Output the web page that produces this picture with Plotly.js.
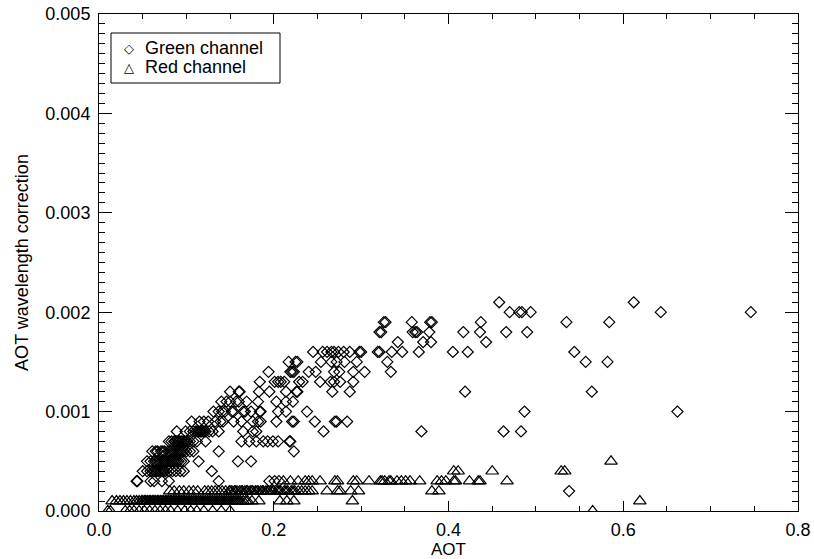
<!DOCTYPE html>
<html>
<head>
<meta charset="utf-8">
<script src="https://cdn.plot.ly/plotly-3.0.1.min.js"></script>
<style>html,body{margin:0;padding:0;background:#fff;}#chart{width:814px;height:559px;}</style>
</head>
<body>
<div id="chart"></div>
<script>
// Green channel (diamonds): AOT vs wavelength correction
const greenAOT = [
  0.458, 0.612,
  0.470, 0.481, 0.484, 0.494, 0.643, 0.746,
  0.326, 0.328, 0.358, 0.379, 0.381, 0.437, 0.535, 0.584,
  0.321, 0.323, 0.359, 0.362, 0.364, 0.378, 0.417, 0.436, 0.466, 0.490,
  0.342, 0.371, 0.380, 0.443,
  0.245, 0.256, 0.261, 0.266, 0.269, 0.274, 0.280, 0.287, 0.298, 0.300, 0.319, 0.321, 0.335, 0.347, 0.366, 0.405, 0.422, 0.544,
  0.217, 0.225, 0.227, 0.254, 0.266, 0.272, 0.281, 0.295, 0.330, 0.557, 0.582,
  0.194, 0.219, 0.221, 0.223, 0.240, 0.248, 0.269, 0.275, 0.291, 0.304, 0.334,
  0.184, 0.201, 0.205, 0.208, 0.212, 0.229, 0.233, 0.253, 0.265, 0.269, 0.276, 0.291,
  0.150, 0.160, 0.161, 0.183, 0.195, 0.214, 0.226, 0.227, 0.267, 0.287, 0.419, 0.564,
  0.140, 0.146, 0.150, 0.157, 0.160, 0.169, 0.182, 0.203, 0.214, 0.222,
  0.131, 0.137, 0.141, 0.144, 0.152, 0.154, 0.165, 0.167, 0.174, 0.184, 0.185, 0.205, 0.214, 0.238, 0.487, 0.662,
  0.106, 0.115, 0.120, 0.125, 0.133, 0.139, 0.142, 0.154, 0.163, 0.176, 0.182, 0.185, 0.203, 0.221, 0.223, 0.247, 0.270, 0.272, 0.284,
  0.089, 0.099, 0.104, 0.108, 0.111, 0.114, 0.116, 0.118, 0.122, 0.126, 0.130, 0.137, 0.165, 0.176, 0.180, 0.257, 0.369, 0.463, 0.483,
  0.080, 0.083, 0.086, 0.089, 0.092, 0.095, 0.098, 0.101, 0.104, 0.108, 0.112, 0.122, 0.163, 0.172, 0.180, 0.188, 0.193, 0.199, 0.205, 0.218, 0.219,
  0.061, 0.067, 0.071, 0.075, 0.079, 0.083, 0.087, 0.091, 0.093, 0.097, 0.100, 0.108, 0.137, 0.223,
  0.055, 0.063, 0.067, 0.071, 0.075, 0.079, 0.083, 0.087, 0.091, 0.094, 0.097, 0.114, 0.159, 0.174,
  0.050, 0.055, 0.059, 0.064, 0.068, 0.072, 0.076, 0.080, 0.084, 0.088, 0.093, 0.097, 0.129,
  0.043, 0.044, 0.059, 0.063, 0.072, 0.080, 0.137, 0.195, 0.201, 0.206,
  0.538,
  0.113, 0.117, 0.120,
  0.087, 0.091, 0.094, 0.097, 0.100,
  0.065, 0.073, 0.081, 0.085, 0.089, 0.095, 0.104,
  0.059, 0.065, 0.069, 0.073, 0.077, 0.081, 0.085, 0.089,
  0.062, 0.066, 0.070, 0.074
];
const greenCorr = [
  0.0021, 0.0021,
  0.0020, 0.0020, 0.0020, 0.0020, 0.0020, 0.0020,
  0.0019, 0.0019, 0.0019, 0.0019, 0.0019, 0.0019, 0.0019, 0.0019,
  0.0018, 0.0018, 0.0018, 0.0018, 0.0018, 0.0018, 0.0018, 0.0018, 0.0018, 0.0018,
  0.0017, 0.0017, 0.0017, 0.0017,
  0.0016, 0.0016, 0.0016, 0.0016, 0.0016, 0.0016, 0.0016, 0.0016, 0.0016, 0.0016, 0.0016, 0.0016, 0.0016, 0.0016, 0.0016, 0.0016, 0.0016, 0.0016,
  0.0015, 0.0015, 0.0015, 0.0015, 0.0015, 0.0015, 0.0015, 0.0015, 0.0015, 0.0015, 0.0015,
  0.0014, 0.0014, 0.0014, 0.0014, 0.0014, 0.0014, 0.0014, 0.0014, 0.0014, 0.0014, 0.0014,
  0.0013, 0.0013, 0.0013, 0.0013, 0.0013, 0.0013, 0.0013, 0.0013, 0.0013, 0.0013, 0.0013, 0.0013,
  0.0012, 0.0012, 0.0012, 0.0012, 0.0012, 0.0012, 0.0012, 0.0012, 0.0012, 0.0012, 0.0012, 0.0012,
  0.0011, 0.0011, 0.0011, 0.0011, 0.0011, 0.0011, 0.0011, 0.0011, 0.0011, 0.0011,
  0.0010, 0.0010, 0.0010, 0.0010, 0.0010, 0.0010, 0.0010, 0.0010, 0.0010, 0.0010, 0.0010, 0.0010, 0.0010, 0.0010, 0.0010, 0.0010,
  0.0009, 0.0009, 0.0009, 0.0009, 0.0009, 0.0009, 0.0009, 0.0009, 0.0009, 0.0009, 0.0009, 0.0009, 0.0009, 0.0009, 0.0009, 0.0009, 0.0009, 0.0009, 0.0009,
  0.0008, 0.0008, 0.0008, 0.0008, 0.0008, 0.0008, 0.0008, 0.0008, 0.0008, 0.0008, 0.0008, 0.0008, 0.0008, 0.0008, 0.0008, 0.0008, 0.0008, 0.0008, 0.0008,
  0.0007, 0.0007, 0.0007, 0.0007, 0.0007, 0.0007, 0.0007, 0.0007, 0.0007, 0.0007, 0.0007, 0.0007, 0.0007, 0.0007, 0.0007, 0.0007, 0.0007, 0.0007, 0.0007, 0.0007, 0.0007,
  0.0006, 0.0006, 0.0006, 0.0006, 0.0006, 0.0006, 0.0006, 0.0006, 0.0006, 0.0006, 0.0006, 0.0006, 0.0006, 0.0006,
  0.0005, 0.0005, 0.0005, 0.0005, 0.0005, 0.0005, 0.0005, 0.0005, 0.0005, 0.0005, 0.0005, 0.0005, 0.0005, 0.0005,
  0.0004, 0.0004, 0.0004, 0.0004, 0.0004, 0.0004, 0.0004, 0.0004, 0.0004, 0.0004, 0.0004, 0.0004, 0.0004,
  0.0003, 0.0003, 0.0003, 0.0003, 0.0003, 0.0003, 0.0003, 0.0003, 0.0003, 0.0003,
  0.0002,
  0.0008, 0.0008, 0.0008,
  0.0007, 0.0007, 0.0007, 0.0007, 0.0007,
  0.0006, 0.0006, 0.0006, 0.0006, 0.0006, 0.0006, 0.0006,
  0.0005, 0.0005, 0.0005, 0.0005, 0.0005, 0.0005, 0.0005, 0.0005,
  0.0004, 0.0004, 0.0004, 0.0004
];

// Red channel (triangles)
const redAOT = [
  0.010, 0.013, 0.030, 0.035, 0.040, 0.046, 0.052, 0.058, 0.064, 0.070, 0.076, 0.082, 0.090, 0.098, 0.105, 0.112, 0.120, 0.130, 0.140, 0.150, 0.565,
  0.015, 0.020, 0.024, 0.028, 0.032, 0.036, 0.040, 0.043, 0.046, 0.049, 0.052, 0.055, 0.058, 0.061, 0.064, 0.067, 0.070, 0.073, 0.076, 0.079,
  0.082, 0.085, 0.088, 0.091, 0.094, 0.097, 0.100, 0.104, 0.108, 0.112, 0.116, 0.120, 0.124, 0.128, 0.132, 0.136, 0.140, 0.144, 0.148, 0.152,
  0.156, 0.160, 0.165, 0.170, 0.175, 0.183, 0.207, 0.215, 0.223, 0.290, 0.619,
  0.081, 0.086, 0.092, 0.097, 0.103, 0.108, 0.113, 0.121, 0.125, 0.129, 0.133, 0.137, 0.141, 0.145, 0.149, 0.152, 0.155, 0.158, 0.161, 0.164,
  0.167, 0.170, 0.173, 0.176, 0.179, 0.182, 0.185, 0.188, 0.191, 0.194, 0.197, 0.200, 0.204, 0.208, 0.212, 0.216, 0.220, 0.224, 0.228, 0.232,
  0.236, 0.240, 0.244, 0.261, 0.273, 0.276, 0.288, 0.297, 0.381, 0.389,
  0.211, 0.219, 0.228, 0.236, 0.240, 0.244, 0.253, 0.270, 0.273, 0.291, 0.295, 0.309, 0.322, 0.324, 0.327, 0.332, 0.334, 0.341, 0.346, 0.351,
  0.356, 0.367, 0.387, 0.392, 0.397, 0.406, 0.408, 0.424, 0.434, 0.436, 0.467,
  0.406, 0.411, 0.450, 0.529, 0.533,
  0.586,
  0.050, 0.053, 0.056, 0.059, 0.062, 0.065, 0.068, 0.071, 0.074, 0.077,
  0.080, 0.083, 0.086, 0.089, 0.092, 0.095, 0.098, 0.102, 0.106, 0.110,
  0.114, 0.118, 0.122, 0.126, 0.130, 0.134, 0.138, 0.142, 0.146, 0.150,
  0.154, 0.158, 0.162, 0.168,
  0.150, 0.156, 0.163, 0.169, 0.175, 0.181, 0.187, 0.193, 0.199, 0.206, 0.214, 0.222
];
const redCorr = [
  0, 0, 0, 0, 0, 0, 0, 0, 0, 0, 0, 0, 0, 0, 0, 0, 0, 0, 0, 0, 0,
  0.0001, 0.0001, 0.0001, 0.0001, 0.0001, 0.0001, 0.0001, 0.0001, 0.0001, 0.0001, 0.0001, 0.0001, 0.0001, 0.0001, 0.0001, 0.0001, 0.0001, 0.0001, 0.0001, 0.0001,
  0.0001, 0.0001, 0.0001, 0.0001, 0.0001, 0.0001, 0.0001, 0.0001, 0.0001, 0.0001, 0.0001, 0.0001, 0.0001, 0.0001, 0.0001, 0.0001, 0.0001, 0.0001, 0.0001, 0.0001,
  0.0001, 0.0001, 0.0001, 0.0001, 0.0001, 0.0001, 0.0001, 0.0001, 0.0001, 0.0001, 0.0001,
  0.0002, 0.0002, 0.0002, 0.0002, 0.0002, 0.0002, 0.0002, 0.0002, 0.0002, 0.0002, 0.0002, 0.0002, 0.0002, 0.0002, 0.0002, 0.0002, 0.0002, 0.0002, 0.0002, 0.0002,
  0.0002, 0.0002, 0.0002, 0.0002, 0.0002, 0.0002, 0.0002, 0.0002, 0.0002, 0.0002, 0.0002, 0.0002, 0.0002, 0.0002, 0.0002, 0.0002, 0.0002, 0.0002, 0.0002, 0.0002,
  0.0002, 0.0002, 0.0002, 0.0002, 0.0002, 0.0002, 0.0002, 0.0002, 0.0002, 0.0002,
  0.0003, 0.0003, 0.0003, 0.0003, 0.0003, 0.0003, 0.0003, 0.0003, 0.0003, 0.0003, 0.0003, 0.0003, 0.0003, 0.0003, 0.0003, 0.0003, 0.0003, 0.0003, 0.0003, 0.0003,
  0.0003, 0.0003, 0.0003, 0.0003, 0.0003, 0.0003, 0.0003, 0.0003, 0.0003, 0.0003, 0.0003,
  0.0004, 0.0004, 0.0004, 0.0004, 0.0004,
  0.0005,
  0.0001, 0.0001, 0.0001, 0.0001, 0.0001, 0.0001, 0.0001, 0.0001, 0.0001, 0.0001,
  0.0001, 0.0001, 0.0001, 0.0001, 0.0001, 0.0001, 0.0001, 0.0001, 0.0001, 0.0001,
  0.0001, 0.0001, 0.0001, 0.0001, 0.0001, 0.0001, 0.0001, 0.0001, 0.0001, 0.0001,
  0.0001, 0.0001, 0.0001, 0.0001,
  0.0002, 0.0002, 0.0002, 0.0002, 0.0002, 0.0002, 0.0002, 0.0002, 0.0002, 0.0002, 0.0002, 0.0002
];

const seriesNames = ['Green channel', 'Red channel'];
const legendSymbols = ['\u25C7', '\u25B3'];
const xTickVals = [0.0, 0.2, 0.4, 0.6, 0.8];
const yTickVals = [0.000, 0.001, 0.002, 0.003, 0.004, 0.005];

const FONT = 'Liberation Sans, Arial, Helvetica, sans-serif';
const FS = 18;

const traces = [
  {
    type: 'scatter', mode: 'markers', name: seriesNames[0], showlegend: false,
    x: greenAOT, y: greenCorr, cliponaxis: true,
    marker: {symbol: 'diamond-open', size: 8.5, color: 'black', line: {color: 'black', width: 1.2}}
  },
  {
    type: 'scatter', mode: 'markers', name: seriesNames[1], showlegend: false,
    x: redAOT, y: redCorr, cliponaxis: true,
    marker: {symbol: 'triangle-up-open', size: 11, color: 'black', line: {color: 'black', width: 1.2}}
  }
];

const axisCommon = {
  showline: true, linecolor: 'black', linewidth: 1, mirror: 'ticks',
  ticks: 'inside', tickcolor: 'black', tickwidth: 1,
  showgrid: false, zeroline: false, automargin: false,
  tickfont: {family: FONT, size: FS, color: 'black'}
};

// Legend drawn as a framed box with symbol + label rows (paper coordinates of plot area)
const plotW = 814 - 99 - 16, plotH = 559 - 14 - 48;
const px = v => (v - 99) / plotW;
const py = v => (511 - v) / plotH;
const legendRowsY = [48, 67];

const annotations = [];
seriesNames.forEach((nm, i) => {
  annotations.push({xref: 'paper', yref: 'paper', x: px(129), y: py(legendRowsY[i]), xanchor: 'center', yanchor: 'middle',
    text: legendSymbols[i], showarrow: false, font: {family: 'DejaVu Sans', size: 13, color: 'black'}});
  annotations.push({xref: 'paper', yref: 'paper', x: px(143), y: py(legendRowsY[i]), xanchor: 'left', yanchor: 'middle',
    text: nm, showarrow: false, font: {family: FONT, size: FS, color: 'black'}});
});

const layout = {
  width: 814, height: 559,
  margin: {l: 99, r: 16, t: 14, b: 48, pad: 0},
  paper_bgcolor: 'white', plot_bgcolor: 'white',
  font: {family: FONT, size: FS, color: 'black'},
  showlegend: false,
  shapes: [{type: 'rect', xref: 'paper', yref: 'paper', x0: px(111), x1: px(280), y0: py(83), y1: py(33),
    line: {color: 'black', width: 1}, fillcolor: 'white', layer: 'above'}],
  annotations: annotations,
  xaxis: Object.assign({}, axisCommon, {
    range: [0, 0.8], tickvals: xTickVals, tickformat: '.1f', ticklen: 10,
    ticklabelstandoff: 2,
    minor: {dtick: 0.05, tick0: 0, ticks: 'inside', ticklen: 5, tickcolor: 'black', tickwidth: 1, showgrid: false},
    title: {text: 'AOT', standoff: 6, font: {family: FONT, size: 17, color: 'black'}}
  }),
  yaxis: Object.assign({}, axisCommon, {
    range: [0, 0.005], tickvals: yTickVals, tickformat: '.3f', ticklen: 13,
    ticklabelstandoff: 4,
    minor: {dtick: 0.0001, tick0: 0, ticks: 'inside', ticklen: 6, tickcolor: 'black', tickwidth: 1, showgrid: false},
    title: {text: 'AOT wavelength correction', standoff: 12, font: {family: FONT, size: FS, color: 'black'}}
  })
};

Plotly.newPlot('chart', traces, layout, {staticPlot: true, displayModeBar: false});
</script>
</body>
</html>
